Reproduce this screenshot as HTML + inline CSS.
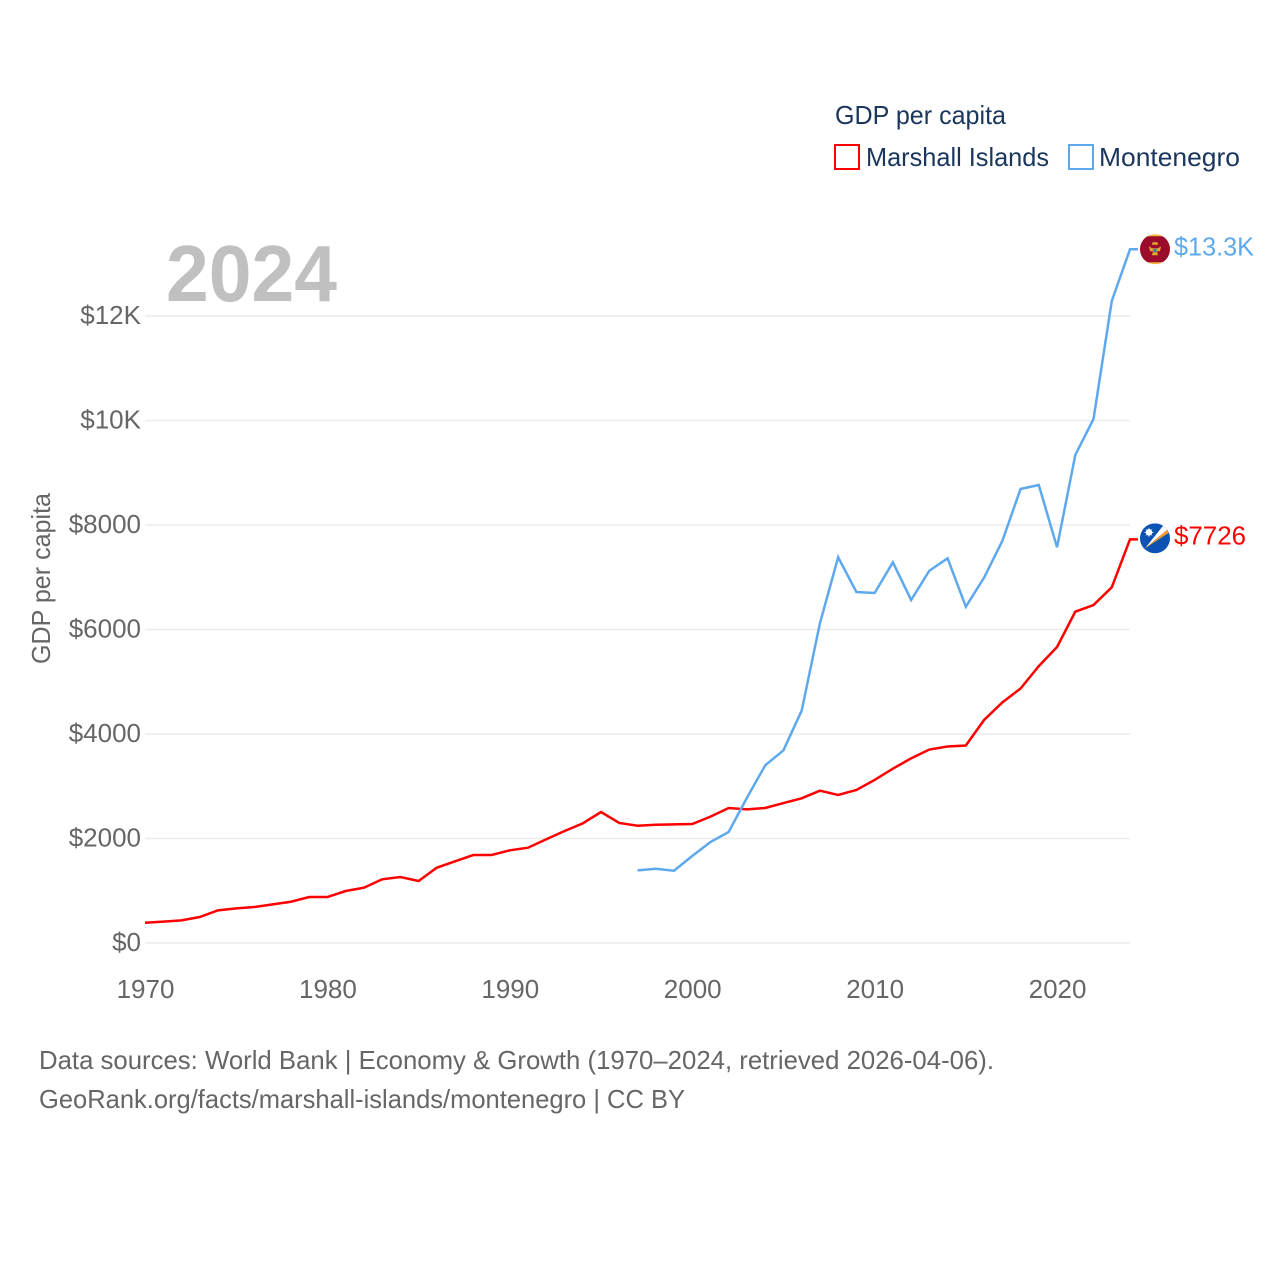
<!DOCTYPE html>
<html lang="en">
<head>
<meta charset="utf-8">
<title>GDP per capita: Marshall Islands and Montenegro</title>
<style>
html,body{margin:0;padding:0;background:#fff;width:1280px;height:1280px;overflow:hidden}
svg{display:block}
text{font-family:"Liberation Sans",sans-serif}
</style>
</head>
<body>
<svg id="chart" xmlns="http://www.w3.org/2000/svg" width="1280" height="1280" viewBox="0 0 1280 1280">
  <defs>
    <clipPath id="flag-clip"><circle cx="0" cy="0" r="15"/></clipPath>
  </defs>
  <g id="grid"></g>
  <g id="y-ticks"></g>
  <g id="x-ticks"></g>
  <text x="166" y="301" font-size="80" font-weight="700" fill="#c0c0c0" textLength="171" lengthAdjust="spacingAndGlyphs">2024</text>
  <text transform="translate(50,578.5) rotate(-90)" text-anchor="middle" font-size="26" fill="#666" textLength="171" lengthAdjust="spacingAndGlyphs">GDP per capita</text>
  <g id="series"></g>

  <g id="flag-montenegro">
    <g clip-path="url(#flag-clip)">
      <rect x="-15" y="-15" width="30" height="30" fill="#f0b93a"/>
      <rect x="-15" y="-13" width="30" height="26" fill="#9c0b2b"/>
      <path d="M-2.5,-7 L2.5,-7 L3,-4.5 L-3,-4.5 Z" fill="#e0a92c"/>
      <path d="M-6,-3 L-3,-1 L3,-1 L6,-3 L5,2 L2,2 L3,6 L-3,6 L-2,2 L-5,2 Z" fill="#e0a92c"/>
      <rect x="-1.7" y="-0.5" width="3.4" height="3.5" fill="#3f7f9e"/>
    </g>
  </g>
  <g id="flag-marshall">
    <g clip-path="url(#flag-clip)">
      <rect x="-15" y="-15" width="30" height="30" fill="#0b52b3"/>
      <path d="M-10,10 L10,-15 L15,-11 Z" fill="#ffffff"/>
      <path d="M-10,10 L15,-11 L16,-7 Z" fill="#f59a2e"/>
      <g fill="#ffffff">
        <circle cx="-6" cy="-6" r="3.2"/>
        <path d="M-6,-11 L-5,-8 L-7,-8 Z M-6,-1 L-5,-4 L-7,-4 Z M-11,-6 L-8,-5 L-8,-7 Z M-1,-6 L-4,-5 L-4,-7 Z M-9.6,-9.6 L-7.2,-8 L-8,-7.2 Z M-2.4,-9.6 L-4.8,-8 L-4,-7.2 Z M-9.6,-2.4 L-7.2,-4 L-8,-4.8 Z M-2.4,-2.4 L-4.8,-4 L-4,-4.8 Z"/>
      </g>
    </g>
  </g>
  <text id="label-montenegro" x="1174" font-size="26" fill="#5ea9ee" textLength="80" lengthAdjust="spacingAndGlyphs">$13.3K</text>
  <text id="label-marshall" x="1174" font-size="26" fill="#ff0000" textLength="72" lengthAdjust="spacingAndGlyphs">$7726</text>

  <g>
    <text x="835" y="124" font-size="26" fill="#1a365d" textLength="171" lengthAdjust="spacingAndGlyphs">GDP per capita</text>
    <g>
      <rect x="835" y="145" width="24" height="24" fill="none" stroke="#ff0000" stroke-width="2"/>
      <text x="866" y="166" font-size="26" fill="#1a365d" textLength="183" lengthAdjust="spacingAndGlyphs">Marshall Islands</text>
    </g>
    <g>
      <rect x="1069" y="145" width="24" height="24" fill="none" stroke="#5ea9ee" stroke-width="2"/>
      <text x="1099" y="166" font-size="26" fill="#1a365d" textLength="141" lengthAdjust="spacingAndGlyphs">Montenegro</text>
    </g>
  </g>

  <text x="39" y="1069" font-size="26" fill="#666" textLength="955" lengthAdjust="spacingAndGlyphs">Data sources: World Bank | Economy &amp; Growth (1970–2024, retrieved 2026-04-06).</text>
  <text x="39" y="1108" font-size="26" fill="#666" textLength="646" lengthAdjust="spacingAndGlyphs">GeoRank.org/facts/marshall-islands/montenegro | CC BY</text>
</svg>
<script>
const yTickValues = [0, 2000, 4000, 6000, 8000, 10000, 12000];
const yTickLabels = ["$0", "$2000", "$4000", "$6000", "$8000", "$10K", "$12K"];
const xTickValues = [1970, 1980, 1990, 2000, 2010, 2020];
const xTickLabels = ["1970", "1980", "1990", "2000", "2010", "2020"];
const marshallStartYear = 1970;
const marshallValues = [388, 410, 433, 497, 625, 663, 689, 740, 790, 880, 880, 995, 1058, 1219, 1263, 1187, 1442, 1563, 1684, 1684, 1774, 1824, 1985, 2143, 2290, 2507, 2297, 2245, 2264, 2271, 2277, 2418, 2584, 2558, 2584, 2679, 2769, 2915, 2833, 2928, 3120, 3336, 3534, 3703, 3760, 3780, 4268, 4603, 4871, 5300, 5665, 6341, 6469, 6807, 7726];
const montenegroStartYear = 1997;
const montenegroValues = [1391, 1422, 1384, 1665, 1933, 2124, 2780, 3400, 3688, 4446, 6118, 7382, 6718, 6699, 7286, 6565, 7125, 7362, 6437, 6992, 7694, 8689, 8766, 7573, 9340, 10029, 12287, 13277];

const SVG_NS = "http://www.w3.org/2000/svg";
function xScale(year) { return 145 + (year - 1970) * (985 / 54); }
function yScale(value) { return 943 - value * 0.05225; }

const grid = document.getElementById("grid");
const yTicks = document.getElementById("y-ticks");
yTickValues.forEach(function (value, i) {
  const line = document.createElementNS(SVG_NS, "line");
  line.setAttribute("x1", 145);
  line.setAttribute("x2", 1130);
  line.setAttribute("y1", yScale(value));
  line.setAttribute("y2", yScale(value));
  line.setAttribute("stroke", "#ebebeb");
  line.setAttribute("stroke-width", "1.5");
  
  
  grid.appendChild(line);

  const label = document.createElementNS(SVG_NS, "text");
  label.setAttribute("x", 141);
  label.setAttribute("y", yScale(value) + 8);
  label.setAttribute("text-anchor", "end");
  label.setAttribute("font-size", "26");
  label.setAttribute("fill", "#666");
  label.textContent = yTickLabels[i];
  
  
  yTicks.appendChild(label);
});

const xTicks = document.getElementById("x-ticks");
xTickValues.forEach(function (year, i) {
  const label = document.createElementNS(SVG_NS, "text");
  label.setAttribute("x", xScale(year) + 0.5);
  label.setAttribute("y", 998);
  label.setAttribute("text-anchor", "middle");
  label.setAttribute("font-size", "26");
  label.setAttribute("fill", "#666");
  label.textContent = xTickLabels[i];
  
  
  xTicks.appendChild(label);
});

function buildPoints(startYear, values) {
  const pts = values.map(function (value, i) {
    return xScale(startYear + i).toFixed(2) + "," + yScale(value).toFixed(2);
  });
  pts.push("1138," + yScale(values[values.length - 1]).toFixed(2));
  return pts.join(" ");
}

const seriesGroup = document.getElementById("series");

const marshallLine = document.createElementNS(SVG_NS, "polyline");
marshallLine.setAttribute("points", buildPoints(marshallStartYear, marshallValues));
marshallLine.setAttribute("fill", "none");
marshallLine.setAttribute("stroke", "#ff0000");
marshallLine.setAttribute("stroke-width", "2.5");
marshallLine.setAttribute("stroke-linejoin", "miter");


seriesGroup.appendChild(marshallLine);

const montenegroLine = document.createElementNS(SVG_NS, "polyline");
montenegroLine.setAttribute("points", buildPoints(montenegroStartYear, montenegroValues));
montenegroLine.setAttribute("fill", "none");
montenegroLine.setAttribute("stroke", "#5ea9ee");
montenegroLine.setAttribute("stroke-width", "2.5");
montenegroLine.setAttribute("stroke-linejoin", "miter");


seriesGroup.appendChild(montenegroLine);

const marshallEndY = yScale(marshallValues[marshallValues.length - 1]);
const montenegroEndY = yScale(montenegroValues[montenegroValues.length - 1]);
document.getElementById("flag-marshall").setAttribute("transform", "translate(1155," + (marshallEndY - 1) + ")");
document.getElementById("flag-montenegro").setAttribute("transform", "translate(1155," + montenegroEndY + ")");
document.getElementById("label-marshall").setAttribute("y", marshallEndY + 5);
document.getElementById("label-montenegro").setAttribute("y", montenegroEndY + 6);
</script>
</body>
</html>
